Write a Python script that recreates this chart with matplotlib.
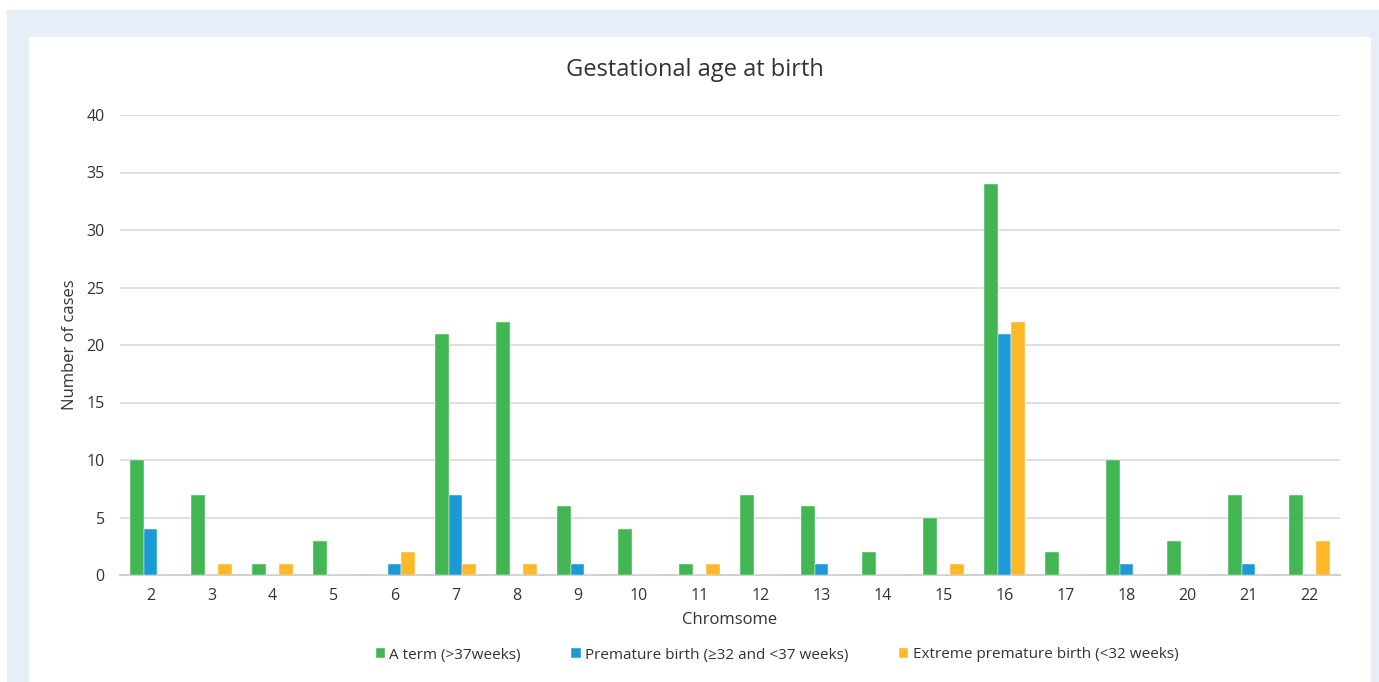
import numpy as np
import matplotlib
matplotlib.use("Agg")
import matplotlib.pyplot as plt
from matplotlib.patches import Rectangle

chromosomes = ["2", "3", "4", "5", "6", "7", "8", "9", "10", "11", "12", "13",
               "14", "15", "16", "17", "18", "20", "21", "22"]
a_term = [10, 7, 1, 3, 0, 21, 22, 6, 4, 1, 7, 6, 2, 5, 34, 2, 10, 3, 7, 7]
premature = [4, 0, 0, 0, 1, 7, 0, 1, 0, 0, 0, 1, 0, 0, 21, 0, 1, 0, 1, 0]
extreme = [0, 1, 1, 0, 2, 1, 1, 0, 0, 1, 0, 0, 0, 1, 22, 0, 0, 0, 0, 3]

series_names = ["A term (>37weeks)", "Premature birth (\u226532 and <37 weeks)",
                "Extreme premature birth (<32 weeks)"]
colors = ["#41B653", "#1B9AD6", "#FDB827"]

plt.rcParams['font.family'] = ['Open Sans', 'DejaVu Sans']

W, H = 1379, 682
fig = plt.figure(figsize=(W / 100, H / 100), dpi=100)
fig.patch.set_facecolor("white")
# light blue frame and white card
fig.patches.append(Rectangle((7 / W, 0), (W - 7) / W, (H - 10) / H,
                             transform=fig.transFigure, color="#E7EEF8", zorder=-2))
fig.patches.append(Rectangle((29 / W, 0), (1370 - 29) / W, (H - 37) / H,
                             transform=fig.transFigure, color="white", zorder=-1))

ax = fig.add_axes([120 / W, 1 - 575 / H, (1340 - 120) / W, (575 - 115) / H])
ax.set_facecolor("none")

x = np.arange(len(chromosomes))
bw = 0.225
for i, (vals, name, c) in enumerate(zip([a_term, premature, extreme], series_names, colors)):
    ax.bar(x + (i - 1) * bw, vals, bw, color=c, label=name, zorder=3,
           edgecolor="white", linewidth=0.3)

ax.set_xlim(-0.5, len(chromosomes) - 0.5)
ax.set_ylim(0, 40)
ax.set_yticks(range(0, 41, 5))
ax.set_xticks(x)
ax.set_xticklabels(chromosomes)
ax.yaxis.grid(True, color="#D9D9D9", linewidth=1.2, zorder=0)
ax.tick_params(axis="both", length=0, labelsize=11.5, colors="#333333")
ax.tick_params(axis="x", pad=9)
ax.tick_params(axis="y", pad=11)
for s in ["top", "right", "left"]:
    ax.spines[s].set_visible(False)
ax.spines["bottom"].set_color("#D0D0D0")
ax.spines["bottom"].set_linewidth(1.5)

ax.set_xlabel("Chromsome", fontsize=12, color="#333333", labelpad=6)
ax.set_ylabel("Number of cases", fontsize=12, color="#333333", labelpad=6)
fig.text(695 / W, 1 - 70 / H, "Gestational age at birth", ha="center", va="center",
         fontsize=17, color="#333333")

fig.legend(loc="center", bbox_to_anchor=(777 / W, 1 - 655 / H), ncol=3, frameon=False,
           fontsize=11, handlelength=0.6, handleheight=0.6, handletextpad=0.3,
           columnspacing=3.3, labelcolor="#333333")

fig.savefig("out.png", dpi=100)
